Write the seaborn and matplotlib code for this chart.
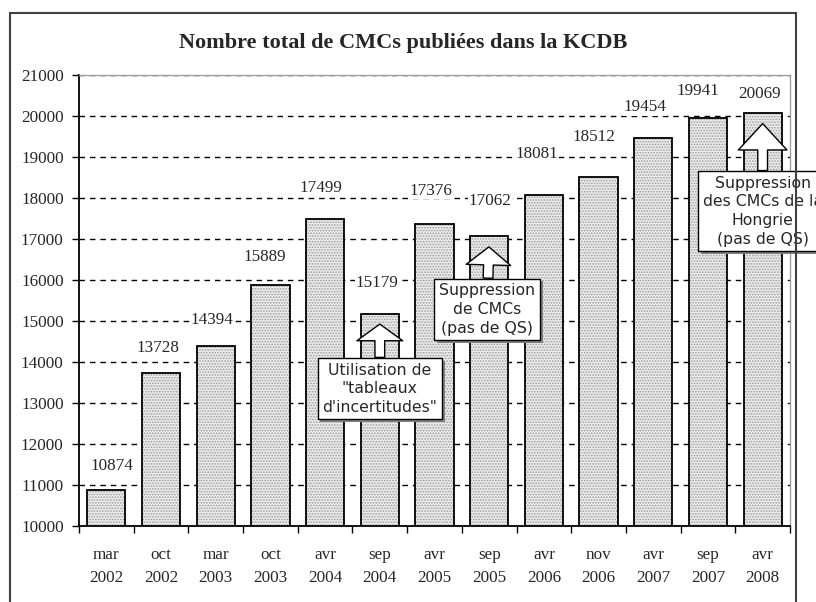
import numpy as np
import pandas as pd
import seaborn as sns
import matplotlib.pyplot as plt
from matplotlib.patches import Rectangle
from matplotlib import patheffects

# Data
dates = ['mar\n2002', 'oct\n2002', 'mar\n2003', 'oct\n2003', 'avr\n2004', 'sep\n2004',
         'avr\n2005', 'sep\n2005', 'avr\n2006', 'nov\n2006', 'avr\n2007', 'sep\n2007',
         'avr\n2008']
cmc_counts = [10874, 13728, 14394, 15889, 17499, 15179, 17376, 17062, 18081, 18512,
              19454, 19941, 20069]
y_ticks = list(range(10000, 21001, 1000))

callout_bars = [5, 7, 12]
callout_texts = ['Utilisation de\n"tableaux\nd\'incertitudes"',
                 'Suppression\nde CMCs\n(pas de QS)',
                 'Suppression\ndes CMCs de la\nHongrie\n(pas de QS)']

df = pd.DataFrame({'date': dates, 'cmc': cmc_counts})

sns.set_style('white')
plt.rcParams['hatch.linewidth'] = 0.8

fig = plt.figure(figsize=(8.16, 6.02), dpi=100)
ax = fig.add_axes([79 / 816, 1 - 526 / 602, (790 - 79) / 816, (526 - 75) / 602])

# dotted fill, then black outlines on top
sns.barplot(data=df, x='date', y='cmc', width=0.7, color='#ebebeb', edgecolor='#9c9c9c',
            linewidth=0, hatch='......', ax=ax, zorder=2)
sns.barplot(data=df, x='date', y='cmc', width=0.7, color='black', fill=False,
            linewidth=1.3, ax=ax, zorder=3)

ax.set_ylim(10000, 21000)
ax.set_yticks(y_ticks)
ax.set_xlim(-0.5, len(dates) - 0.5)
ax.set_xlabel('')
ax.set_ylabel('')
ax.set_axisbelow(True)
ax.yaxis.grid(True, color='black', linestyle=(0, (4, 3.5)), linewidth=1)

serif = 'Liberation Serif'
ax.set_yticklabels([str(t) for t in y_ticks], fontfamily=serif, fontsize=12.3)
ax.set_xticks(np.arange(len(dates)))
ax.set_xticklabels(dates, fontfamily=serif, fontsize=12.3, linespacing=1.6)
ax.set_xticks(np.arange(len(dates) + 1) - 0.5, minor=True)
ax.tick_params(axis='x', which='major', length=0, pad=15)
ax.tick_params(axis='x', which='minor', direction='out', length=5, width=1, color='black', bottom=True)
ax.tick_params(axis='y', direction='out', length=5, width=1, color='black', left=True, pad=6)

for side in ['left', 'bottom']:
    ax.spines[side].set_color('black')
    ax.spines[side].set_linewidth(1.3)
for side in ['top', 'right']:
    ax.spines[side].set_color('#a0a0a0')
    ax.spines[side].set_linewidth(1)

# value labels (nudged like in the original)
label_dx = [6, -3, -4, -6, -4, -3, -4, 1, -7, -5, -8, -10, -3]
label_dy = [24, 25, 26, 28, 31, 31, 33, 35, 41, 40, 31, 27, 19]
for i, v in enumerate(cmc_counts):
    ax.annotate(str(v), xy=(i, v), xytext=(label_dx[i], label_dy[i]),
                textcoords='offset pixels', ha='center', va='center',
                fontfamily=serif, fontsize=12.3, zorder=4,
                bbox=dict(facecolor='white', edgecolor='none', pad=0.5))

# callout boxes with block arrows
box_dy = [-75, -73, -98]
box_dx = [0, -2, 0]
head_len = [12, 13, 19]
head_w = [33, 32, 35]
for k, i in enumerate(callout_bars):
    ann = ax.annotate(callout_texts[k], xy=(i, cmc_counts[i]),
                      xytext=(box_dx[k], box_dy[k]), textcoords='offset pixels',
                      ha='center', va='center', fontfamily='DejaVu Sans', fontsize=11.3,
                      linespacing=1.3, zorder=6, annotation_clip=False,
                      bbox=dict(boxstyle='square,pad=0.3', facecolor='white',
                                edgecolor='black', linewidth=1),
                      arrowprops=dict(arrowstyle='simple,head_length=%d,head_width=%d,tail_width=7'
                                      % (head_len[k], head_w[k]),
                                      mutation_scale=1, facecolor='white', edgecolor='black',
                                      linewidth=1, shrinkA=0, shrinkB=7.5))
    ann.get_bbox_patch().set_path_effects([
        patheffects.SimplePatchShadow(offset=(2, -2), shadow_rgbFace='#808080', alpha=1),
        patheffects.Normal()])

fig.text(403 / 816, 1 - 43 / 602, 'Nombre total de CMCs publiées dans la KCDB',
         ha='center', va='center', fontfamily=serif, fontweight='bold', fontsize=16)

# outer chart frame
fig.patches.append(Rectangle((10 / 816, -0.1), (796 - 10) / 816, 1.1 - 13 / 602,
                             transform=fig.transFigure, fill=False,
                             edgecolor='#404040', linewidth=1.5))

fig.savefig('out.png', dpi=100)
